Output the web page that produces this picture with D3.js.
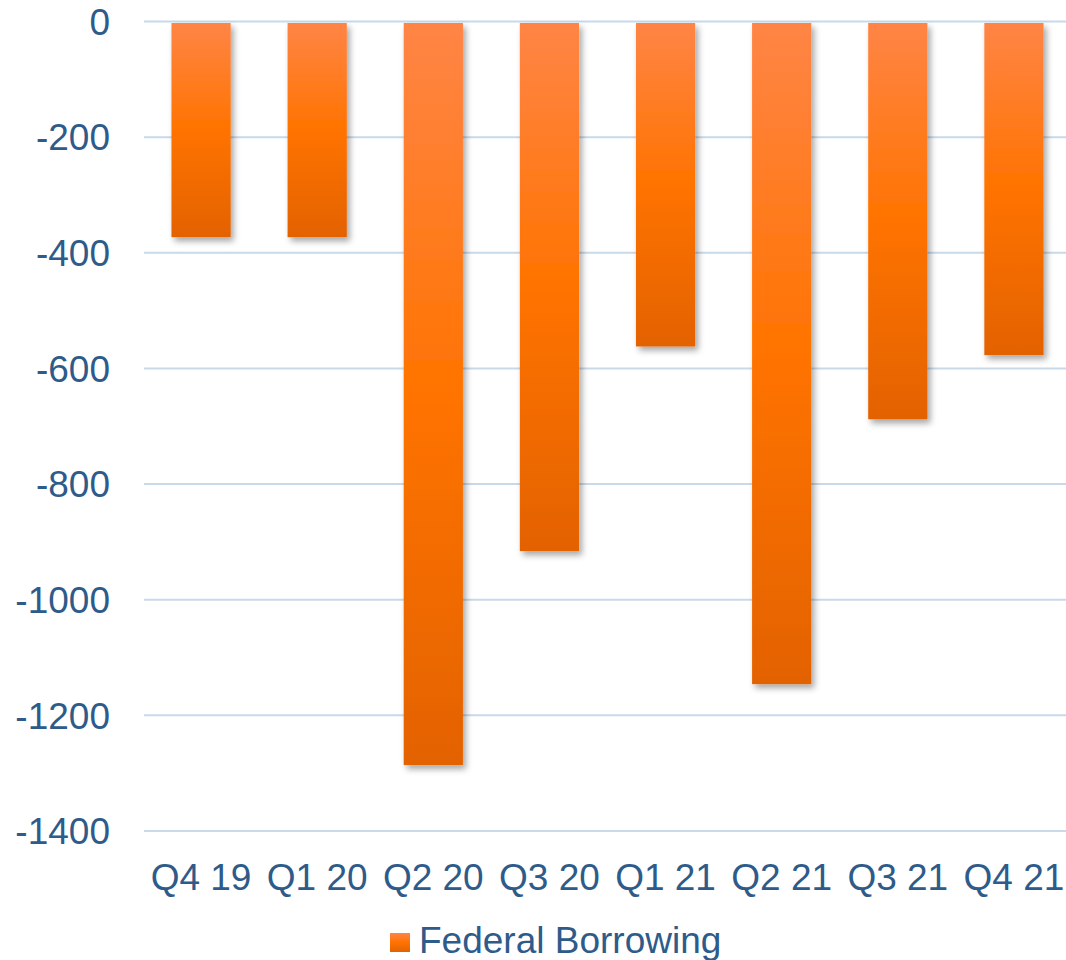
<!DOCTYPE html>
<html>
<head>
<meta charset="utf-8">
<script src="https://cdn.jsdelivr.net/npm/d3@7"></script>
<style>
  body { margin: 0; background: #fff; }
  svg { display: block; font-family: "Liberation Sans", Arial, sans-serif; }
</style>
</head>
<body>
<svg id="chart"></svg>
<script>
const quarters = ["Q4 19", "Q1 20", "Q2 20", "Q3 20", "Q1 21", "Q2 21", "Q3 21", "Q4 21"];
const borrowing = [-373, -373, -1286, -916, -562, -1146, -688, -577];
const yTicks = [0, -200, -400, -600, -800, -1000, -1200, -1400];
const seriesName = "Federal Borrowing";

const width = 1066, height = 960;
const textColor = "#2e5b89";

const svg = d3.select("#chart")
  .attr("width", width)
  .attr("height", height);

const defs = svg.append("defs");

const grad = defs.append("linearGradient")
  .attr("id", "barGrad")
  .attr("x1", "0%").attr("x2", "0%")
  .attr("y1", "0%").attr("y2", "100%");
grad.selectAll("stop")
  .data([
    { offset: "0%", color: "#ff8546" },
    { offset: "50%", color: "#ff7300" },
    { offset: "100%", color: "#e36200" }
  ])
  .join("stop")
  .attr("offset", d => d.offset)
  .attr("stop-color", d => d.color);

// soft shadow under the bars
const shadow = defs.append("filter")
  .attr("id", "shadow")
  .attr("x", "-20%").attr("y", "-5%")
  .attr("width", "150%").attr("height", "115%");
shadow.append("feDropShadow")
  .attr("dx", 3)
  .attr("dy", 4)
  .attr("stdDeviation", 3)
  .attr("flood-color", "#000")
  .attr("flood-opacity", 0.35);

const x = d3.scaleBand()
  .domain(quarters)
  .range([143, 1072])
  .paddingInner(0.49)
  .paddingOuter(0.245);

const y = d3.scaleLinear()
  .domain([0, -1400])
  .range([21.5, 831]);

// Gridlines
svg.append("g")
  .selectAll("line")
  .data(yTicks)
  .join("line")
  .attr("x1", 144)
  .attr("x2", width)
  .attr("y1", d => y(d))
  .attr("y2", d => y(d))
  .attr("stroke", "#c8d9ea")
  .attr("stroke-width", 2);

// Y labels
svg.append("g")
  .selectAll("text")
  .data(yTicks)
  .join("text")
  .attr("x", 110)
  .attr("y", d => y(d))
  .attr("dy", "0.36em")
  .attr("text-anchor", "end")
  .attr("fill", textColor)
  .style("font-size", "37px")
  .text(d => d === 0 ? "0" : "-" + Math.abs(d));

// Bars
svg.append("g")
  .selectAll("rect")
  .data(borrowing)
  .join("rect")
  .attr("x", (d, i) => x(quarters[i]))
  .attr("y", y(0) + 1.5)
  .attr("width", x.bandwidth())
  .attr("height", d => y(d) - y(0) - 1.5)
  .attr("fill", "url(#barGrad)")
  .style("filter", "url(#shadow)");

// X labels
svg.append("g")
  .selectAll("text")
  .data(quarters)
  .join("text")
  .attr("x", d => x(d) + x.bandwidth() / 2)
  .attr("y", 890)
  .attr("text-anchor", "middle")
  .attr("fill", textColor)
  .style("font-size", "37px")
  .text(d => d);

// Legend
const legend = svg.append("g").attr("transform", "translate(390,933)");
legend.append("rect")
  .attr("width", 20)
  .attr("height", 19)
  .attr("fill", "url(#barGrad)");
legend.append("text")
  .attr("x", 29)
  .attr("y", 20)
  .attr("fill", textColor)
  .style("font-size", "37px")
  .text(seriesName);
</script>
</body>
</html>
